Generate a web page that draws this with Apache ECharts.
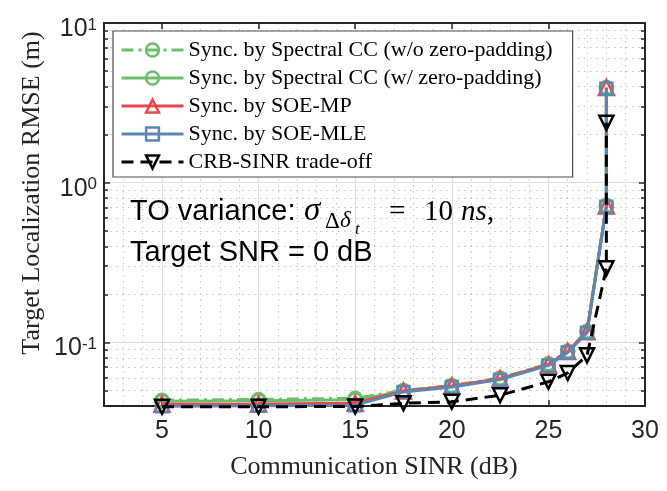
<!DOCTYPE html>
<html><head><meta charset="utf-8">
<script src="https://cdn.jsdelivr.net/npm/echarts@6/dist/echarts.min.js"></script>
<style>html,body{margin:0;padding:0;background:#fff}#c{width:667px;height:491px}</style>
</head><body><div id="c"></div>
<script>
// ---- data ----
const sinr = [5, 10, 15, 17.5, 20, 22.5, 25, 26, 27, 28, 28];
const ccNoPad = [0.0435, 0.0440, 0.0447, 0.0500, 0.0538, 0.0598, 0.0735, 0.0885, 0.1175, 0.720, 3.95];
const ccPad   = [0.0428, 0.0432, 0.0438, 0.0494, 0.0531, 0.0590, 0.0725, 0.0875, 0.1165, 0.715, 3.92];
const soeMp   = [0.0410, 0.0412, 0.0416, 0.0496, 0.0533, 0.0592, 0.0727, 0.0878, 0.1168, 0.715, 3.94];
const soeMle  = [0.0399, 0.0401, 0.0405, 0.0490, 0.0526, 0.0585, 0.0718, 0.0865, 0.1150, 0.708, 3.88];
const crb     = [0.0396, 0.0396, 0.0397, 0.0416, 0.0425, 0.0467, 0.0567, 0.0644, 0.0830, 0.291, 2.37];
const seriesNames = [
  'Sync. by Spectral CC (w/o zero-padding)',
  'Sync. by Spectral CC (w/ zero-padding)',
  'Sync. by SOE-MP',
  'Sync. by SOE-MLE',
  'CRB-SINR trade-off'
];
const xTicks = [5, 10, 15, 20, 25, 30];
const yTickExponents = [-1, 0, 1];
const xTitle = 'Communication SINR (dB)';
const yTitle = 'Target Localization RMSE (m)';

// ---- styling ----
const GREEN = '#6DBE6C', RED = '#E8484C', BLUE = '#5B87B5', BLACK = '#000000';
const AX = '#262626';
const SANS = 'Liberation Sans', SERIF = 'Liberation Serif';

function pairs(ys) { return sinr.map((x, i) => [x, ys[i]]); }

function mk(name, ys, color, symbol, size, dash, z, extra) {
  return Object.assign({
    name: name, type: 'line', data: pairs(ys), z: z,
    symbol: symbol, symbolSize: size, showSymbol: true, clip: false,
    lineStyle: { color: color, width: 3, type: dash },
    itemStyle: { color: 'rgba(255,255,255,0)', borderColor: color, borderWidth: 2.5 },
    emphasis: { disabled: true }
  }, extra || {});
}

const chart = echarts.init(document.getElementById('c'), null, { renderer: 'canvas' });

const xMin = 2, xMax = 30, yMin = 0.04, yMax = 10;

function txt(x, y, text, font, extra) {
  return Object.assign({ type: 'text', x: x, y: y, silent: true, z: 10,
    style: { text: text, font: font, fill: '#000', align: 'left', verticalAlign: 'middle' } }, extra || {});
}

const option = {
  animation: false,
  backgroundColor: '#ffffff',
  grid: { left: 104, right: 22, top: 23, bottom: 85, show: false },
  xAxis: [{
    type: 'value', min: xMin, max: xMax, splitNumber: 6,
    axisLine: { show: true, onZero: false, lineStyle: { color: AX, width: 2 } },
    axisTick: { show: true, inside: true, length: 6, lineStyle: { color: AX, width: 1.5 } },
    axisLabel: {
      margin: 13, color: AX, fontFamily: SANS, fontSize: 25,
      formatter: v => (xTicks.indexOf(Math.round(v * 1000) / 1000) >= 0 ? String(v) : '')
    },
    splitLine: { show: true, lineStyle: { color: '#dedede', width: 1 } },
    minorTick: { show: false, splitNumber: 5 },
    minorSplitLine: { show: true, lineStyle: { color: '#c4c4c4', width: 1, type: [1.5, 4.5] } }
  }, {
    type: 'value', min: xMin, max: xMax, splitNumber: 6, position: 'top',
    axisLine: { show: true, onZero: false, lineStyle: { color: AX, width: 2 } },
    axisTick: { show: true, inside: true, length: 6, lineStyle: { color: AX, width: 1.5 } },
    axisLabel: { show: false }, splitLine: { show: false }
  }],
  yAxis: [{
    type: 'log', logBase: 10, min: yMin, max: yMax,
    axisLine: { show: true, onZero: false, lineStyle: { color: AX, width: 2 } },
    axisTick: { show: true, inside: true, length: 6, lineStyle: { color: AX, width: 1.5 } },
    minorTick: { show: true, splitNumber: 9, length: 4, lineStyle: { color: AX, width: 1.5 } },
    axisLabel: {
      margin: 7, color: AX, padding: [12, 0, 0, 0],
      formatter: v => {
        const l = Math.log10(v), e = Math.round(l);
        if (Math.abs(l - e) > 1e-6 || yTickExponents.indexOf(e) < 0) return '';
        return '{b|10}{s|' + e + '}';
      },
      rich: {
        b: { fontFamily: SANS, fontSize: 25, color: AX, verticalAlign: 'bottom', lineHeight: 25 },
        s: { fontFamily: SANS, fontSize: 17, color: AX, verticalAlign: 'top', lineHeight: 17, padding: [0, 0, 18, 0] }
      }
    },
    splitLine: { show: true, lineStyle: { color: '#dedede', width: 1 } },
    minorSplitLine: { show: true, lineStyle: { color: '#c4c4c4', width: 1, type: [1.5, 4.5] } }
  }, {
    type: 'log', logBase: 10, min: yMin, max: yMax, position: 'right',
    axisLine: { show: true, onZero: false, lineStyle: { color: AX, width: 2 } },
    axisTick: { show: true, inside: true, length: 6, lineStyle: { color: AX, width: 1.5 } },
    minorTick: { show: true, splitNumber: 9, length: 4, lineStyle: { color: AX, width: 1.5 } },
    axisLabel: { show: false }, splitLine: { show: false }
  }],
  legend: {
    orient: 'vertical', left: 113, top: 31,
    backgroundColor: '#ffffff', borderColor: '#4d4d4d', borderWidth: 1.2,
    padding: [8, 20, 4, 7], itemGap: 6, itemWidth: 62, itemHeight: 16,
    lineStyle: { width: 3 },
    itemStyle: { borderWidth: 2.5 },
    textStyle: { fontFamily: SERIF, fontSize: 22, color: '#000', lineHeight: 22 },
    data: seriesNames
  },
  series: [
    mk(seriesNames[0], ccNoPad, GREEN, 'circle', 13, [12, 5, 3, 5], 2),
    mk(seriesNames[1], ccPad, GREEN, 'circle', 13, 'solid', 3),
    mk(seriesNames[2], soeMp, RED, 'triangle', 15, 'solid', 4),
    mk(seriesNames[3], soeMle, BLUE, 'rect', 12, 'solid', 5),
    mk(seriesNames[4], crb, BLACK, 'triangle', 14, [12, 7], 6, { symbolRotate: 180 })
  ],
  graphic: [
    { type: 'text', x: 32, y: 193, rotation: Math.PI / 2, silent: true,
      style: { text: yTitle, font: '26px "Liberation Serif"', fill: AX, align: 'center', verticalAlign: 'middle' } },
    { type: 'text', x: 374, y: 467, silent: true,
      style: { text: xTitle, font: '26px "Liberation Serif"', fill: AX, align: 'center', verticalAlign: 'middle' } },
    // annotation line 1
    txt(130, 212, 'TO variance:', '29px "Liberation Sans"'),
    txt(304, 211, 'σ', 'italic 33px "Liberation Serif"'),
    txt(325, 222, 'Δ', '23px "Liberation Serif"'),
    txt(340, 221, 'δ', 'italic 23px "Liberation Serif"'),
    txt(355, 230, 't', 'italic 17px "Liberation Serif"'),
    txt(389, 212, '=', '29px "Liberation Serif"'),
    txt(424, 212, '10', '29px "Liberation Serif"'),
    txt(461, 212, 'ns', 'italic 29px "Liberation Serif"'),
    txt(487, 212, ',', '29px "Liberation Serif"'),
    // annotation line 2
    txt(130, 253, 'Target SNR = 0 dB', '29px "Liberation Sans"')
  ]
};
chart.setOption(option);
</script>
</body></html>
